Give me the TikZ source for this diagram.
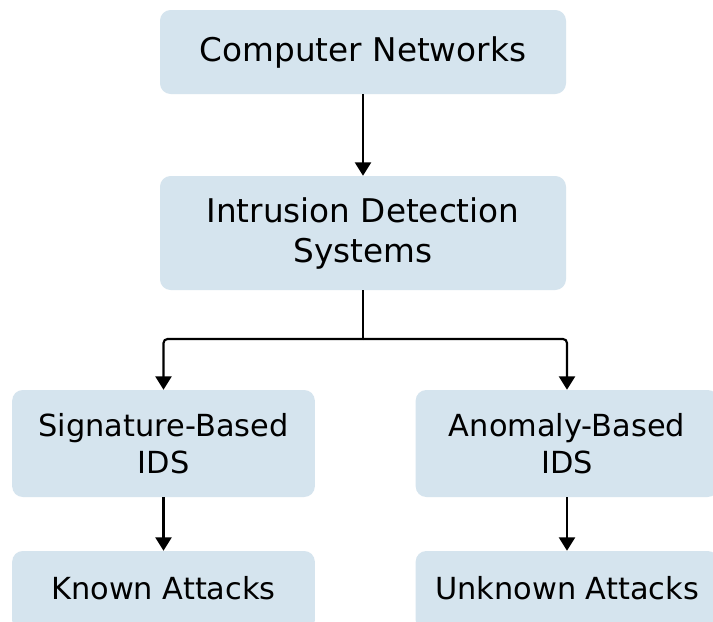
\documentclass[tikz,border=0pt]{standalone}
\usepackage{fontspec}
\setmainfont{DejaVu Sans}
\usetikzlibrary{arrows.meta}
\definecolor{boxblue}{RGB}{213,228,238}
\begin{document}
\begin{tikzpicture}[
    x=0.75pt, y=-0.75pt,
    box/.style={fill=boxblue, rounded corners=8pt, align=center, inner sep=0pt},
    bigbox/.style={box, minimum width=304.5pt, font=\fontsize{24.5}{30}\selectfont},
    smallbox/.style={box, minimum width=227pt, font=\fontsize{22.8}{27.8}\selectfont},
    link/.style={draw, line width=1.6pt, rounded corners=3pt, -{Triangle[length=10pt,width=12pt]}}
]
\clip (0,0) rectangle (713,621);
\useasboundingbox (0,0) rectangle (713,621);
\fill[white] (0,0) rectangle (713,621);

\node[bigbox, minimum height=63pt] (net) at (363,52) {Computer Networks};
\node[bigbox, minimum height=85.5pt] (ids) at (363,233) {Intrusion Detection\\Systems};
\node[smallbox, minimum height=80.25pt] (sig) at (163.5,443.5) {Signature-Based\\IDS};
\node[smallbox, minimum height=80.25pt] (ano) at (567,443.5) {Anomaly-Based\\IDS};
\node[smallbox, minimum height=60pt] (known) at (163.5,591) {\raisebox{5pt}{Known Attacks}};
\node[smallbox, minimum height=60pt] (unknown) at (567,591) {\raisebox{5pt}{Unknown Attacks}};

\coordinate (fork) at (363,339);

\draw[link] (net) -- (ids);
\draw[line width=1.6pt] (ids) -- (fork);
\draw[link] (fork) -| (sig);
\draw[link] (fork) -| (ano);
\draw[link] (sig) -- (known);
\draw[link] (ano) -- (unknown);
\end{tikzpicture}
\end{document}
